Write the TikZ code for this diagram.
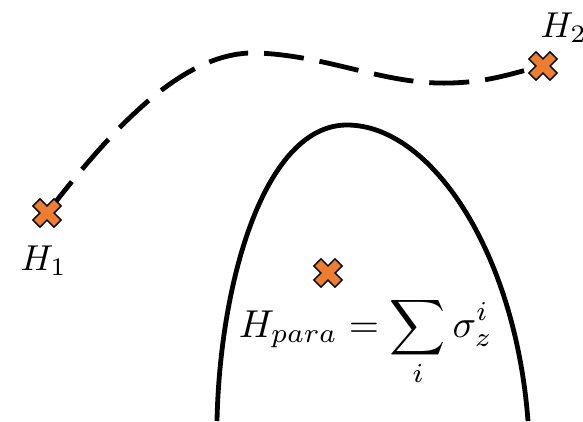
\documentclass[tikz,border=0pt]{standalone}
\begin{document}
\begin{tikzpicture}[x=1pt,y=-1pt,
  curve/.style={line width=4.8pt},
  lbl/.style={inner sep=0pt, scale=3.6, transform shape}]
\definecolor{xorange}{RGB}{237,125,49}
\useasboundingbox (0,0) rectangle (583,421);
\begin{scope}
\clip (0,0) rectangle (583,421);
% named positions
\coordinate (H1) at (47,213);
\coordinate (H2) at (543,66);
\coordinate (Hc) at (328,273);
% dashed path
\draw[curve, dash pattern=on 40pt off 16pt] (H1) .. controls (115,125) and (185,50) .. (258,53)
   .. controls (330,56) and (385,85) .. (450,83) .. controls (492,82) and (515,72) .. (H2);
% arch
\draw[curve] (217,421) .. controls (220,280) and (265,125) .. (347,125)
   .. controls (430,125) and (515,250) .. (528,421);
% crosses
\foreach \p in {H1,H2,Hc}{
  \fill[xorange, draw=black, line width=1.4pt, shift={(\p)}, rotate=45]
    (-5,-15) -- (5,-15) -- (5,-5) -- (15,-5) -- (15,5) -- (5,5) -- (5,15) -- (-5,15)
    -- (-5,5) -- (-15,5) -- (-15,-5) -- (-5,-5) -- cycle;
}
\node[lbl, anchor=base west] (l1) at (20,270) {$H_1$};
\node[lbl, anchor=base west] (l2) at (540,37) {$H_2$};
\node[lbl, scale=1.08, anchor=base west] (eq) at (238,337) {$\displaystyle H_{para}=\sum_i\sigma_z^i$};
\end{scope}
\end{tikzpicture}
\end{document}
